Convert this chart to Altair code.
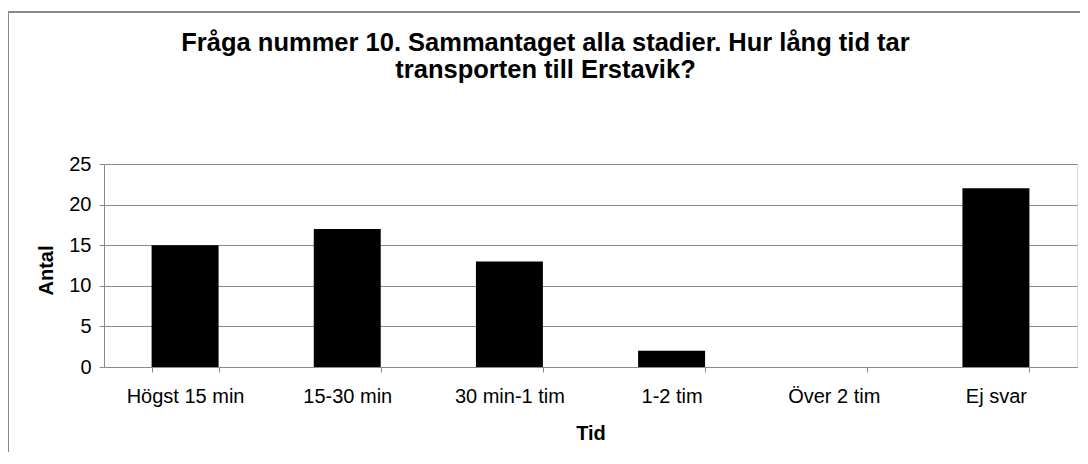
import altair as alt
import pandas as pd

categories = ["Högst 15 min", "15-30 min", "30 min-1 tim", "1-2 tim", "Över 2 tim", "Ej svar"]
values = [15, 17, 13, 2, 0, 22]
y_ticks = [0, 5, 10, 15, 20, 25]

df = pd.DataFrame({"Tid": categories, "Antal": values})

FONT = "Liberation Sans"
GRAY = "#8a8a8a"

bars = alt.Chart(df).mark_bar(color="black").encode(
    x=alt.X(
        "Tid:N",
        sort=categories,
        scale=alt.Scale(paddingInner=0.587, paddingOuter=0.2935),
        axis=alt.Axis(
            title="Tid",
            labelAngle=0,
            labelFont=FONT,
            labelFontSize=20,
            labelColor="black",
            labelPadding=14,
            tickBand="extent",
            tickSize=5,
            tickColor=GRAY,
            domainColor=GRAY,
            titleFont=FONT,
            titleFontSize=20,
            titleFontWeight="bold",
            titleColor="black",
            titleBaseline="alphabetic",
            titleY=72,
            grid=False,
        ),
    ),
    y=alt.Y(
        "Antal:Q",
        scale=alt.Scale(domain=[0, 25], nice=False),
        axis=alt.Axis(
            title="Antal",
            values=y_ticks,
            labelFont=FONT,
            labelFontSize=20,
            labelColor="black",
            labelPadding=8,
            tickSize=5,
            tickColor=GRAY,
            domainColor=GRAY,
            gridColor=GRAY,
            titleFont=FONT,
            titleFontSize=20,
            titleFontWeight="bold",
            titleColor="black",
            titleBaseline="alphabetic",
            titleX=-52,
            titleY=106,
        ),
    ),
)

frame = alt.Chart(df).mark_rect(fill=None, stroke=GRAY, strokeWidth=1.5).encode(
    x=alt.value(-96), x2=alt.value(1200), y=alt.value(-152), y2=alt.value(700)
)

chart = alt.layer(frame, bars).properties(
    width=973,
    height=203,
    title=alt.TitleParams(
        text=["Fråga nummer 10. Sammantaget alla stadier. Hur lång tid tar",
              "transporten till Erstavik?"],
        font=FONT,
        fontSize=25.5,
        fontWeight="bold",
        color="black",
        anchor="middle",
        frame="group",
        baseline="alphabetic",
        dx=-45,
        offset=0,
        dy=92,
        lineHeight=27,
    ),
    autosize=alt.AutoSizeParams(type="none"),
    padding={"left": 96, "top": 156, "right": 3, "bottom": 85},
).configure_view(
    stroke=GRAY, strokeWidth=1
).configure(background="white")

chart.save("out.html", embed_options={"renderer": "svg", "actions": False})
